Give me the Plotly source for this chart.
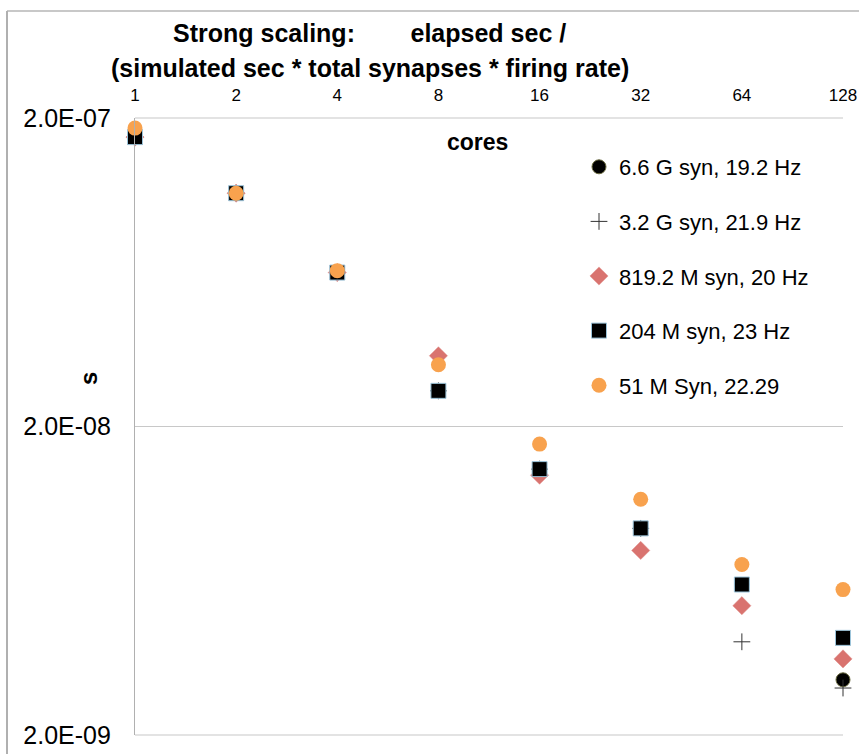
import plotly.graph_objects as go

cores = [1, 2, 4, 8, 16, 32, 64, 128]

names = ["6.6 G syn, 19.2 Hz", "3.2 G syn, 21.9 Hz", "819.2 M syn, 20 Hz",
         "204 M syn, 23 Hz", "51 M Syn, 22.29"]

syn_6_6G = [1.734e-7, 1.141e-7, 6.31e-8, 2.61e-8, 1.455e-8, 9.35e-9, 6.15e-9, 3.02e-9]
syn_3_2G = [1.734e-7, 1.141e-7, 6.31e-8, 2.61e-8, 1.455e-8, 9.35e-9, 4.01e-9, 2.84e-9]
syn_819M = [1.734e-7, 1.141e-7, 6.31e-8, 3.39e-8, 1.39e-8, 7.93e-9, 5.25e-9, 3.53e-9]
syn_204M = [1.734e-7, 1.141e-7, 6.31e-8, 2.61e-8, 1.455e-8, 9.35e-9, 6.15e-9, 4.13e-9]
syn_51M = [1.855e-7, 1.141e-7, 6.40e-8, 3.17e-8, 1.754e-8, 1.162e-8, 7.14e-9, 5.92e-9]

y_ticks = [2e-9, 2e-8, 2e-7]
y_tick_text = ["2.0E-09", "2.0E-08", "2.0E-07"]
x_tick_text = ["1", "2", "4", "8", "16", "32", "64", "128"]

W, H = 859, 754
L, R, T, B = 135, 843, 118, 735

series = [syn_6_6G, syn_3_2G, syn_819M, syn_204M, syn_51M]
markers = [
    dict(symbol="circle", size=14, color="#000000", line=dict(color="#6b6b40", width=1)),
    dict(symbol="cross-thin", size=12, color="#333333", line=dict(color="#333333", width=1)),
    dict(symbol="diamond", size=14, color="#d9736f", line=dict(color="#e0908c", width=0.5)),
    dict(symbol="square", size=15, color="#000000", line=dict(color="#9cc4da", width=1)),
    dict(symbol="circle", size=15, color="#f8a24e", line=dict(width=0)),
]

fig = go.Figure()
for i, (nm, ys, mk) in enumerate(zip(names, series, markers)):
    fig.add_trace(go.Scatter(
        x=cores, y=ys, mode="markers", name=nm, marker=mk,
        cliponaxis=False, legendgroup=f"g{i}",
    ))

FONT = "Liberation Sans, Arial, sans-serif"


def px_x(p):
    return (p - L) / (R - L)


def px_y(p):
    return 1 - (p - T) / (B - T)


NB = "\u00a0" * 8
fig.update_layout(
    width=W, height=H,
    margin=dict(l=L, r=W - R, t=T, b=H - B, autoexpand=False),
    paper_bgcolor="white", plot_bgcolor="white",
    font=dict(family=FONT, color="#000000"),
    xaxis=dict(
        type="log", side="top", range=[0, 2.10721],
        tickvals=cores, ticktext=x_tick_text,
        showgrid=False, zeroline=False, showline=False,
        ticks="", ticklabelstandoff=13, automargin=False,
        tickfont=dict(size=17, family=FONT),
    ),
    yaxis=dict(
        type="log", range=[-8.69897, -6.69897],
        tickvals=y_ticks, ticktext=y_tick_text,
        showgrid=True, gridcolor="#c8c8c8", gridwidth=1.2,
        showline=True, linecolor="#b0b0b0", linewidth=1.2,
        ticks="", ticklabelstandoff=18, automargin=False,
        tickfont=dict(size=25, family=FONT),
        zeroline=False,
    ),
    legend=dict(
        x=px_x(579), xanchor="left",
        y=px_y(146), yanchor="top",
        font=dict(size=22, family=FONT),
        tracegroupgap=23, bgcolor="rgba(0,0,0,0)",
        itemwidth=30,
    ),
    showlegend=True,
    annotations=[
        dict(text="<b>Strong scaling:" + NB + "elapsed sec /</b>",
             x=px_x(369), y=px_y(33), xanchor="center", yanchor="middle",
             xref="paper", yref="paper", showarrow=False,
             font=dict(size=25, family=FONT)),
        dict(text="<b>(simulated sec * total synapses * firing rate)</b>",
             x=px_x(370), y=px_y(68), xanchor="center", yanchor="middle",
             xref="paper", yref="paper", showarrow=False,
             font=dict(size=25, family=FONT)),
        dict(text="<b>cores</b>", x=px_x(477), y=px_y(142),
             xanchor="center", yanchor="middle",
             xref="paper", yref="paper", showarrow=False,
             font=dict(size=23, family=FONT)),
        dict(text="<b>s</b>", x=px_x(88), y=px_y(379),
             xanchor="center", yanchor="middle",
             xref="paper", yref="paper", showarrow=False, textangle=-90,
             font=dict(size=24, family=FONT)),
    ],
)

# grid lines on the top and bottom edges of the plot area
for yy in (0, 1):
    fig.add_shape(type="line", xref="paper", yref="paper",
                  x0=0, x1=1, y0=yy, y1=yy,
                  line=dict(color="#c8c8c8", width=1.2), layer="below")

# outer chart border (top and left edges visible)
fig.add_shape(type="line", xref="paper", yref="paper",
              x0=px_x(7), x1=px_x(W), y0=px_y(11), y1=px_y(11),
              line=dict(color="#c8c8c8", width=2), layer="below")
fig.add_shape(type="line", xref="paper", yref="paper",
              x0=px_x(7), x1=px_x(7), y0=px_y(11), y1=px_y(H),
              line=dict(color="#b0b0b0", width=2), layer="below")

fig.write_html("out.html", config={"displayModeBar": False},
               post_script="document.body.style.margin='0px';")
